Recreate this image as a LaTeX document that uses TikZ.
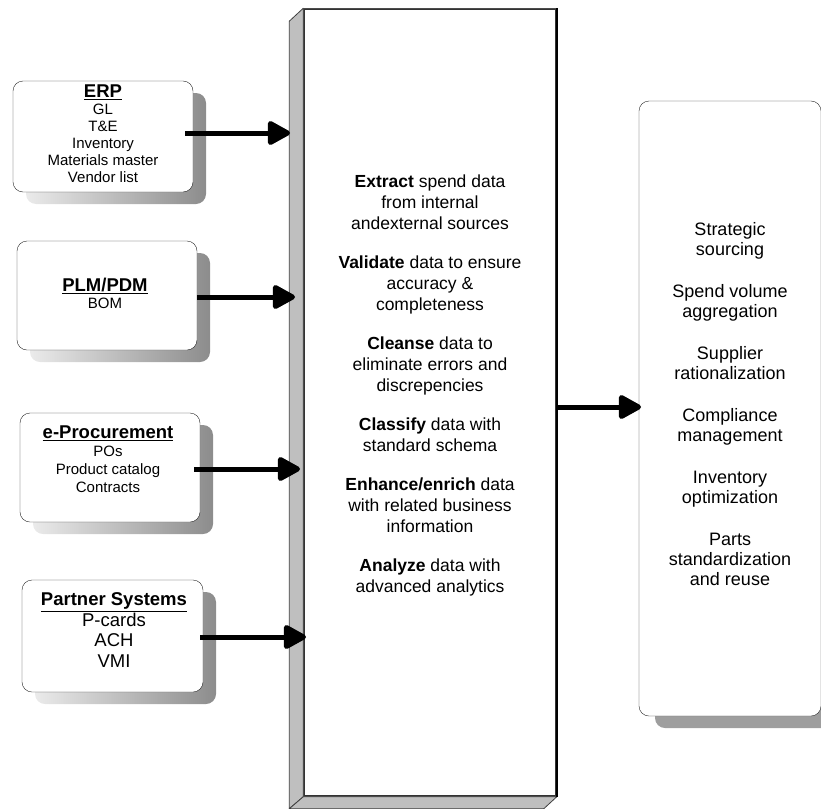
\documentclass[tikz,border=0pt]{standalone}
\usepackage{fontspec}
\setmainfont{Liberation Sans}
\usetikzlibrary{arrows.meta,calc}

\tikzset{
  srcbox/.style={draw=black!85,fill=white,rounded corners=10pt,minimum width=180pt,minimum height=110pt,inner sep=0pt},
  srctext/.style={align=center,inner sep=0pt,font=\fontsize{15}{17}\selectfont},
  srcshadow/.style={left color=black!8,right color=black!45,draw=none,rounded corners=10pt},
  feed/.style={line width=5pt,-{Triangle[length=25pt,width=26pt,round]}},
  bevel/.style={fill=black!25,draw=black!75,line width=0.8pt,line join=round},
}
\newcommand{\boxhead}[2]{{\fontsize{#1}{#1}\selectfont\underline{\textbf{#2}}}}

\begin{document}
\begin{tikzpicture}[x=1pt,y=-1pt]
    \useasboundingbox (0,0) rectangle (821,808);
    \clip (0,0) rectangle (821,808);

    % The source systems
    \path[srcshadow] (26,93) rectangle (206,204);
    \path[srcshadow] (30,253) rectangle (210,362);
    \path[srcshadow] (33,425) rectangle (213,534);
    \path[srcshadow] (35,592) rectangle (216,704);
    \node[srcbox,minimum height=111pt] (erp) at (103,136.5) {};
    \node[srcbox,minimum height=109pt] (plm) at (107,295.5) {};
    \node[srcbox,minimum height=109pt] (eproc) at (110,467.5) {};
    \node[srcbox,minimum width=181pt,minimum height=112pt] (partner) at (112.5,636) {};

    \node[srctext] (erptext) at (103,134) {\boxhead{18.5}{ERP}\\ GL\\ T\&E\\ Inventory\\ Materials master\\ Vendor list};
    \node[srctext] (plmtext) at (105,293) {\boxhead{18.5}{PLM/PDM}\\ BOM};
    \node[srctext,font=\fontsize{15}{18}\selectfont] (eproctext) at (108,459) {\boxhead{18.5}{e-Procurement}\\ POs\\ Product catalog\\ Contracts};
    \node[srctext,font=\fontsize{18.5}{20.5}\selectfont] (partnertext) at (114,630) {\boxhead{18.5}{Partner Systems}\\ P-cards\\ ACH\\ VMI};

    % The hub with its bevelled edges
    \node[draw=black!80,fill=white,line width=1.5pt,minimum width=252pt,minimum height=787pt,inner sep=0pt] (hub) at (430,402.5) {};
    \draw[bevel] (hub.north west) -- ++(-14,13) -- ($(hub.south west)+(-14,12)$) -- (hub.south west) -- cycle;
    \draw[bevel] (hub.south west) -- (hub.south east) -- ++(-13,12) -- ($(hub.south west)+(-14,12)$) -- cycle;
    \draw[black!70,line width=1.2pt] (hub.north west) rectangle (hub.south east);
    \draw[black,line width=2pt] (hub.north east) -- (hub.south east);

    \node[align=center,inner sep=0pt,font=\fontsize{17.5}{21}\selectfont] (steps) at (430,385) {%
      \textbf{Extract} spend data\\ from internal\\ andexternal sources\\[18pt]
      \textbf{Validate} data to ensure\\ accuracy \&\\ completeness\\[18pt]
      \textbf{Cleanse} data to\\ eliminate errors and\\ discrepencies\\[18pt]
      \textbf{Classify} data with\\ standard schema\\[18pt]
      \textbf{Enhance/enrich} data\\ with related business\\ information\\[18pt]
      \textbf{Analyze} data with\\ advanced analytics};

    % The uses of the data
    \path[fill=black!38,rounded corners=10pt] (655,113) rectangle (836,728);
    \node[draw=black!85,fill=white,rounded corners=10pt,minimum width=182pt,minimum height=615pt,inner sep=0pt] (uses) at (730,408.5) {};
    \node[align=center,inner sep=0pt,font=\fontsize{18}{20}\selectfont] (goals) at (730,404) {%
      Strategic\\ sourcing\\[22pt]
      Spend volume\\ aggregation\\[22pt]
      Supplier\\ rationalization\\[22pt]
      Compliance\\ management\\[22pt]
      Inventory\\ optimization\\[22pt]
      Parts\\ standardization\\ and reuse};

    % The arrows
    \coordinate (erpin) at (290,133);
    \coordinate (plmin) at (295,297);
    \coordinate (eprocin) at (300,469);
    \coordinate (partnerin) at (306,637);
    \coordinate (usesin) at (641,407);
    \draw[feed] ($(erp.east |- erpin)+(-8,0)$) -- (erpin);
    \draw[feed] (plm.east |- plmin) -- (plmin);
    \draw[feed] ($(eproc.east |- eprocin)+(-6,0)$) -- (eprocin);
    \draw[feed] ($(partner.east |- partnerin)+(-3,0)$) -- (partnerin);
    \draw[feed] (hub.east |- usesin) -- (usesin);
  \end{tikzpicture}
\end{document}
